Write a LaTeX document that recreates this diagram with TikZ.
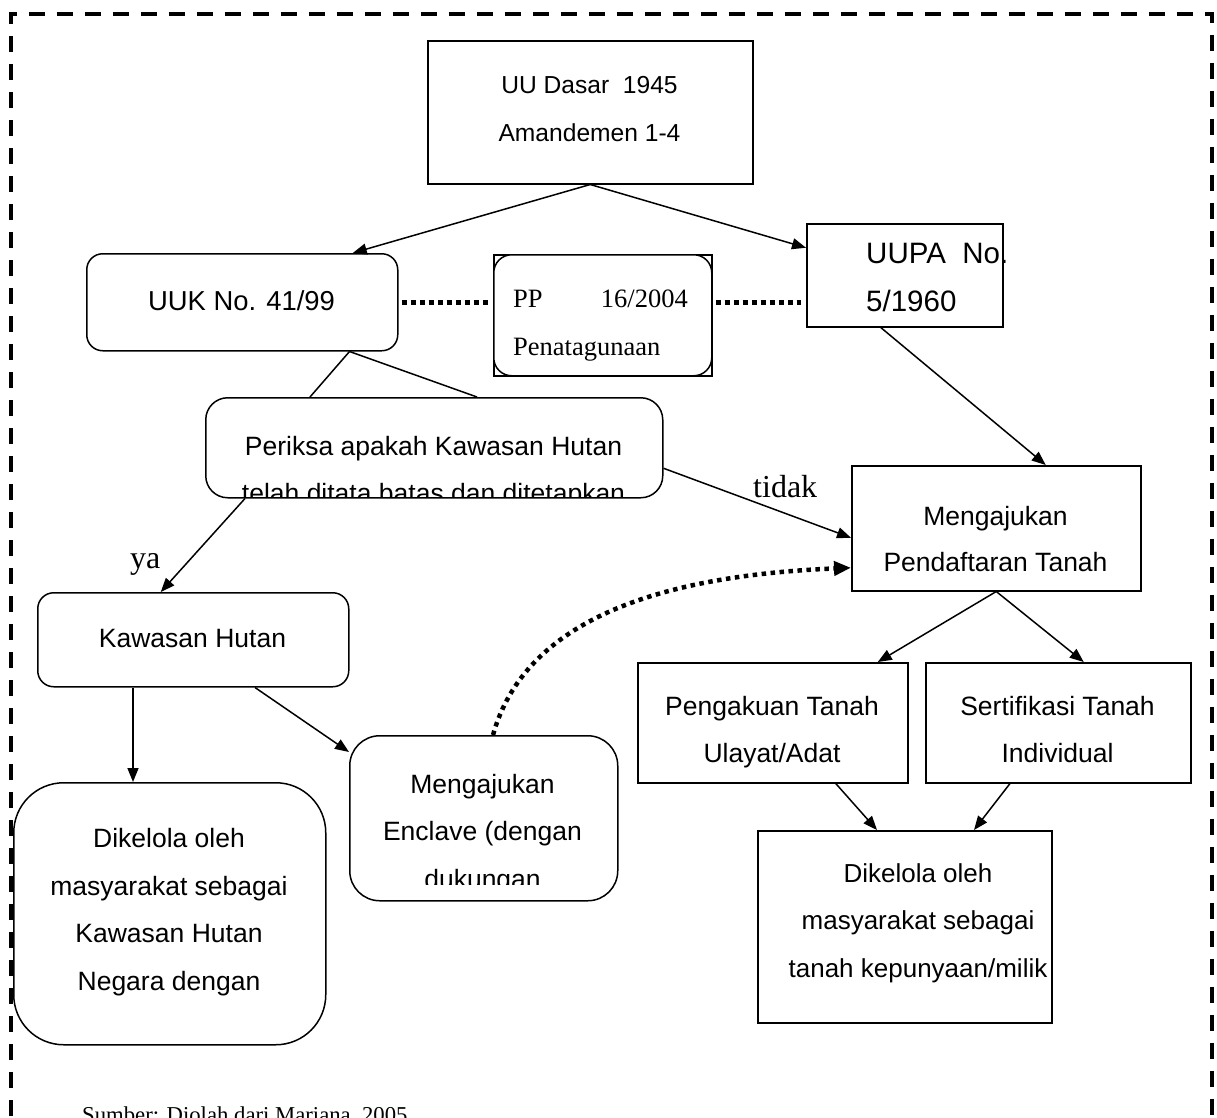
\documentclass[tikz,border=0pt]{standalone}
\usepackage{fontspec}
\setmainfont{Liberation Serif}
\newfontfamily\arialf{Liberation Sans}
\usetikzlibrary{arrows.meta}
\begin{document}
\begin{tikzpicture}[x=1pt,y=-1pt,
  shp/.style={draw, line width=1.5pt, fill=white, inner sep=0pt, anchor=north west},
  rbox/.style={shp, rounded corners=#1},
  rbox/.default=16pt,
  txt/.style={font=\arialf\fontsize{26.5}{47.5}\selectfont, align=center, inner sep=0pt, anchor=base},
  serif/.style={font=\fontsize{26.5}{48}\selectfont, inner sep=0pt},
  conn/.style={line width=1.5pt, -{Triangle[length=14pt,width=11pt]}},
  plain/.style={line width=1.5pt},
  dots/.style={line width=5pt, dash pattern=on 5pt off 4pt},
  dotarrow/.style={line width=4.5pt, dash pattern=on 4.5pt off 4.5pt, -{Triangle[length=17pt,width=14pt]}},
  frame/.style={line width=4pt, dash pattern=on 16pt off 12pt}
]
\useasboundingbox (0,0) rectangle (1217,1117);
\fill[white] (0,0) rectangle (1217,1117);
\draw[frame] (10.5,1200) -- (10.5,14) -- (1212,14) -- (1212,1200);

% boxes
\node[shp, minimum width=325pt, minimum height=143pt] (uud) at (427,40) {};
\node[rbox, minimum width=311pt, minimum height=97pt] (uuk) at (86,253) {};
\node[shp, minimum width=218pt, minimum height=121pt] (ppo) at (493,254) {};
\node[rbox=18pt, minimum width=218pt, minimum height=121pt] (pp) at (493,254) {};
\node[shp, minimum width=196pt, minimum height=103pt] (uupa) at (806,223) {};
\node[rbox=22pt, minimum width=457pt, minimum height=100pt] (per) at (205,397) {};
\node[shp, minimum width=289pt, minimum height=125pt] (pend) at (851,465) {};
\node[rbox, minimum width=311pt, minimum height=94pt] (kh) at (37,592) {};
\node[rbox=50pt, minimum width=312pt, minimum height=262pt] (dkl) at (13,782) {};
\node[rbox=30pt, minimum width=268pt, minimum height=165pt] (enc) at (349,735) {};
\node[shp, minimum width=270pt, minimum height=120pt] (peng) at (637,662) {};
\node[shp, minimum width=265pt, minimum height=120pt] (sert) at (925,662) {};
\node[shp, minimum width=294pt, minimum height=192pt] (dkr) at (757,830) {};

% texts (anchor base = baseline of the last line)
\node[txt, font=\arialf\fontsize{24.6}{48}\selectfont] (uudt) at (589.5,141) {UU Dasar\ \ 1945\\Amandemen 1-4};
\node[txt, font=\arialf\fontsize{27.4}{48}\selectfont] (uukt) at (241.5,310) {UUK No. 41/99};
\node[serif, anchor=base west] (ppa) at (513,307) {PP};
\node[serif, anchor=base east] (ppb) at (688,307) {16/2004};
\node[serif, anchor=base west] (ppc) at (513,355) {Penatagunaan};
\node[txt, align=left, anchor=base west, font=\arialf\fontsize{29.5}{48}\selectfont] (uupat) at (866,311) {UUPA\ \ No.\\5/1960};
\begin{scope}
  \clip (205,397) rectangle (662,497);
  \node[txt, font=\arialf\fontsize{26.5}{47}\selectfont] (pert) at (433.5,502) {Periksa apakah Kawasan Hutan\\telah ditata batas dan ditetapkan};
\end{scope}
\node[txt, font=\arialf\fontsize{26.5}{45.5}\selectfont] (pendt) at (995.5,571) {Mengajukan\\Pendaftaran Tanah};
\node[txt] (kht) at (192.5,647) {Kawasan Hutan};
\node[txt] (dklt) at (169,990) {Dikelola oleh\\masyarakat sebagai\\Kawasan Hutan\\Negara dengan};
\begin{scope}
  \clip (349,735) rectangle (617,884);
  \node[txt] (enct) at (482.5,888) {Mengajukan\\Enclave (dengan\\dukungan};
\end{scope}
\node[txt] (pengt) at (772,762.5) {Pengakuan Tanah\\Ulayat/Adat};
\node[txt] (sertt) at (1057.5,762.5) {Sertifikasi Tanah\\Individual};
\node[txt, font=\arialf\fontsize{26}{47.5}\selectfont] (dkrt) at (918,977) {Dikelola oleh\\masyarakat sebagai\\tanah kepunyaan/milik};

\node[font=\fontsize{32}{36}\selectfont, inner sep=0pt, anchor=base west] (tidak) at (753,497) {tidak};
\node[font=\fontsize{32}{36}\selectfont, inner sep=0pt, anchor=base west] (ya) at (130,568) {ya};
\node[font=\fontsize{22.7}{26}\selectfont, inner sep=0pt, anchor=base west] (src) at (82,1122) {Sumber: Diolah dari Mariana, 2005};

% connectors
\draw[conn] (uud.south) -- ([xshift=110.5pt]uuk.north);
\draw[conn] (uud.south) -- ([yshift=27.5pt]uupa.west);
\draw[dots, shorten <=3pt, shorten >=5pt] (uuk.east) -- (uuk.east -| ppo.west);
\draw[dots, shorten <=3pt, shorten >=5pt] (ppo.east |- uuk.east) -- (uupa.west |- uuk.east);
\draw[plain] ([xshift=-49pt]uuk.south east) -- ([xshift=105pt]per.north west);
\draw[plain] ([xshift=-49pt]uuk.south east) -- ([xshift=272pt]per.north west);
\draw[conn] ([xshift=-24pt]uupa.south) -- ([xshift=49.5pt]pend.north);
\draw[conn] ([yshift=-20.5pt]per.east) -- ([yshift=-9.5pt]pend.west);
\draw[conn] ([xshift=40pt]per.south west) -- ([xshift=-32.5pt]kh.north);
\draw[conn] (pend.south) -- ([xshift=105pt]peng.north);
\draw[conn] (pend.south) -- ([xshift=25.5pt]sert.north);
\draw[conn] ([xshift=96pt]kh.south west) -- ([xshift=120pt]dkl.north west);
\draw[conn] ([xshift=218pt]kh.south west) -- ([yshift=-17pt]enc.north west);
\draw[dotarrow] ([xshift=144pt]enc.north west) .. controls +(32,-115) and +(-192,8) .. ([yshift=-39.5pt]pend.west);
\draw[conn] ([xshift=63pt]peng.south) -- ([xshift=120pt]dkr.north west);
\draw[conn] ([xshift=85pt]sert.south west) -- ([xshift=217pt]dkr.north west);
\end{tikzpicture}
\end{document}
